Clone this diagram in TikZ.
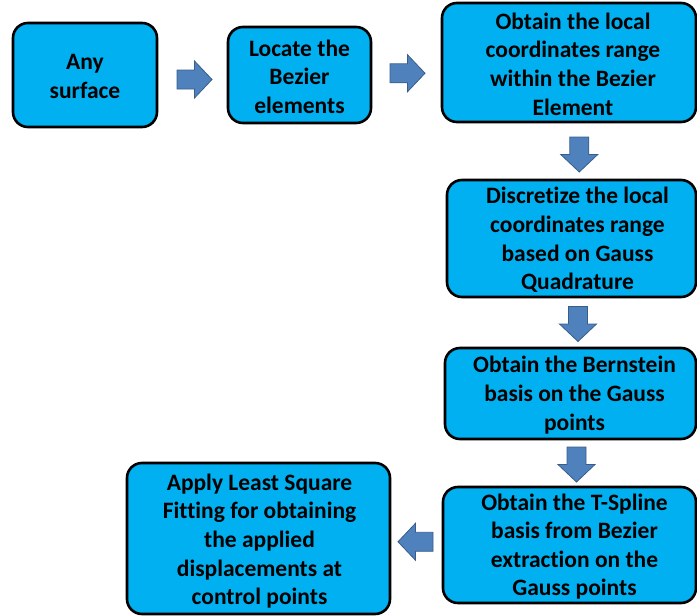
\documentclass[tikz,border=0pt]{standalone}
\usepackage{fontspec}
\setmainfont[Ligatures=NoCommon]{Carlito}
\usetikzlibrary{calc}
\definecolor{boxcyan}{HTML}{00B0F0}
\definecolor{arrfill}{HTML}{4F81BD}
\definecolor{arrdraw}{HTML}{385D8A}
\tikzset{
  stepbox/.style={draw=black, line width=2.6pt, fill=boxcyan, rounded corners=15pt, inner sep=0pt},
  steptext/.style={align=center, inner sep=0pt, font=\bfseries\fontsize{23.5}{28.6}\selectfont},
  blockarr/.pic={\draw[fill=arrfill, draw=arrdraw, line width=0.8pt, line join=miter]
      (-17.5,-9.5) -- (0,-9.5) -- (0,-18.5) -- (17.5,0) -- (0,18.5) -- (0,9.5) -- (-17.5,9.5) -- cycle;}
}
\begin{document}
\begin{tikzpicture}[x=1pt,y=-1pt]
\useasboundingbox (0,0) rectangle (697,616);
% boxes
\node[stepbox, minimum width=144pt, minimum height=104pt] (b1) at (85,75) {};
\node[stepbox, minimum width=143pt, minimum height=96pt] (b2) at (299.5,75) {};
\node[stepbox, minimum width=254pt, minimum height=119pt] (b3) at (569,62.5) {};
\node[stepbox, minimum width=249pt, minimum height=117pt] (b4) at (571.5,238.5) {};
\node[stepbox, minimum width=251pt, minimum height=91pt] (b5) at (570.5,393.5) {};
\node[stepbox, minimum width=253pt, minimum height=116pt] (b6) at (569.5,545) {};
\node[stepbox, minimum width=263pt, minimum height=151pt] (b7) at (258.5,538.5) {};
% texts
\node[steptext] (t1) at ([yshift=-1.5pt]b1.center) {Any\\surface};
\node[steptext] (t2) at ([yshift=-1.5pt]b2.center) {Locate the\\Bezier\\elements};
\node[steptext] (t3) at ([xshift=4pt,yshift=-1.5pt]b3.center) {Obtain the local\\coordinates range\\within the Bezier\\Element};
\node[steptext] (t4) at ([xshift=6pt,yshift=-1.5pt]b4.center) {Discretize the local\\coordinates range\\based on Gauss\\Quadrature};
\node[steptext] (t5) at ([xshift=4pt,yshift=-1.5pt]b5.center) {Obtain the Bernstein\\basis on the Gauss\\points};
\node[steptext] (t6) at ([xshift=5pt,yshift=-1.5pt]b6.center) {Obtain the T-Spline\\basis from Bezier\\extraction on the\\Gauss points};
\node[steptext] (t7) at ([xshift=1pt,yshift=-2.5pt]b7.center) {Apply Least Square\\Fitting for obtaining\\the applied\\displacements at\\control points};
% block arrows between boxes
\pic at ($(b1.east)!0.5!(b2.west)+(2,4.5)$) {blockarr};
\pic at ($(b2.east)!0.5!(b3.west)+(1,4.5)$) {blockarr};
\pic[rotate=-90] at ($(b3.south)!0.5!(b4.north)+(9,3.5)$) {blockarr};
\pic[rotate=-90] at ($(b4.south)!0.5!(b5.north)+(7,1.5)$) {blockarr};
\pic[rotate=-90] at ($(b5.south)!0.5!(b6.north)+(6.5,1.5)$) {blockarr};
\pic[rotate=180] at ($(b6.west)!0.5!(b7.east)+(-1,0)$) {blockarr};
\end{tikzpicture}
\end{document}
